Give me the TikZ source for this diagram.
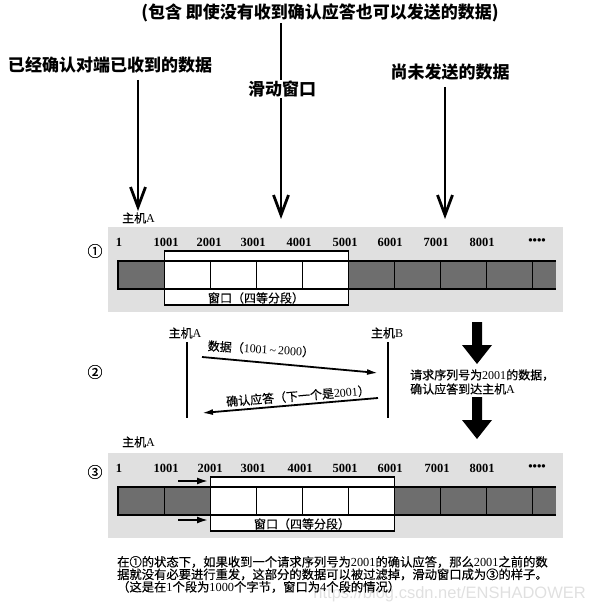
\documentclass[tikz,border=0pt]{standalone}
\usepackage{fontspec}
\setmainfont{Liberation Serif}
\newfontfamily\cjk[FakeBold=0.45]{Noto Sans CJK SC}
\newfontfamily\cjkhead{Noto Sans CJK SC}
\newfontfamily\wmfont{Liberation Sans}
\usetikzlibrary{arrows.meta}
\XeTeXinterchartokenstate=1
\newXeTeXintercharclass\CJKclass
\makeatletter
\def\setcjkrange#1#2{\count@=#1\relax
  \loop\XeTeXcharclass\count@=\CJKclass\relax
  \ifnum\count@<#2\relax\advance\count@ by 1\relax\repeat}
\setcjkrange{"4E00}{"9FFF}
\setcjkrange{"3000}{"303F}
\setcjkrange{"FF00}{"FFEF}
\setcjkrange{"2460}{"2473}
\makeatother
\XeTeXinterchartoks 0 \CJKclass = {\cjk}
\XeTeXinterchartoks \CJKclass 0 = {\rmfamily}
\XeTeXinterchartoks 4095 \CJKclass = {\cjk}
\XeTeXinterchartoks \CJKclass 4095 = {\rmfamily}
\begin{document}
\begin{tikzpicture}[x=1pt,y=-1pt,
  toplbl/.style={font={\XeTeXinterchartokenstate=0 \cjkhead\bfseries\fontsize{17}{19}\selectfont}, inner sep=1pt},
  toparrow/.style={line width=2.8pt, -{Straight Barb[length=20pt,width=15pt]}},
  txtlbl/.style={font=\fontsize{12}{14}\selectfont, inner sep=0pt},
  paralbl/.style={font=\fontsize{12.3}{14}\selectfont, inner sep=0pt, anchor=base west},
  numlbl/.style={font=\bfseries\fontsize{12.5}{14}\selectfont, inner sep=0pt},
  hostlbl/.style={font=\fontsize{12}{14}\selectfont, inner sep=0pt},
  circnum/.style={font=\cjk\fontsize{15}{17}\selectfont, inner sep=0pt},
  bgpanel/.style={fill=black!12},
  darkcell/.style={fill=black!57},
  cellline/.style={line width=1.6pt},
  winbox/.style={line width=1.8pt},
  lifeline/.style={line width=2.6pt},
  msgarrow/.style={line width=1.8pt, -{Latex[length=11pt,width=6pt]}},
  movearrow/.style={line width=1.8pt, -{Latex[length=11pt,width=7pt]}},
]
\useasboundingbox (0,0) rectangle (601,612);

% ---------- top labels and arrows ----------
\node[toplbl] (topl) at (320,13) {(包含 即使没有收到确认应答也可以发送的数据)};
\node[toplbl] (lblA) at (110,65) {已经确认对端已收到的数据};
\node[toplbl] (lblW) at (282,89) {滑动窗口};
\node[toplbl] (lblB) at (450,72) {尚未发送的数据};
\coordinate (srcA) at (138,80);
\coordinate (tipA) at (138,211);
\coordinate (tipW) at (281,219);
\coordinate (srcB) at (445,87);
\coordinate (tipB) at (445,219);
\draw[toparrow] (srcA) -- (tipA);
\draw[line width=2.8pt] (topl.south -| tipW) -- (lblW.north -| tipW);
\draw[toparrow] (lblW.south -| tipW) -- (tipW);
\draw[toparrow] (srcB) -- (tipB);

% ---------- panel 1 ----------
\node[hostlbl, anchor=west] (hA1) at (122,218) {主机A};
\fill[bgpanel] (108,227) rectangle (563,312);
\fill[darkcell] (118,261) rectangle (164.5,289);
\fill[darkcell] (348.5,261) rectangle (556,289);
\fill[white] (164.5,251) rectangle (348.5,305);
\draw[cellline] (556,261) -- (118,261) -- (118,289) -- (556,289);
\foreach \i in {1,...,9} \draw[cellline] ({118.5+46*\i},261) -- ({118.5+46*\i},289);
\draw[winbox] (164.5,251) rectangle (348.5,305);
\node[txtlbl] (win1) at (256,298) {窗口（四等分段）};
\node[numlbl] (p1n0) at (119,242) {1};
\foreach \v/\x in {1001/166,2001/209,3001/253,4001/299,5001/345,6001/390,7001/436,8001/482}
  \node[numlbl] (p1n\v) at (\x,242) {\v};
\node[numlbl] (p1dots) at (537,242) {••••};
\node[circnum] (c1) at (95,251) {①};

% ---------- panel 2 ----------
\node[hostlbl] (hA2) at (185,333) {主机A};
\node[hostlbl] (hB2) at (387,333) {主机B};
\coordinate (Aa) at (187,342); \coordinate (Ab) at (187,418);
\coordinate (Ba) at (388,342); \coordinate (Bb) at (388,418);
\draw[lifeline] (Aa) -- (Ab);
\draw[lifeline] (Ba) -- (Bb);
\coordinate (d1) at (202,357); \coordinate (d2) at (378,373);
\draw[msgarrow] (d1) -- (d2);
\node[txtlbl, rotate=-3.5] (dlbl) at (261,349) {数据（1001\,\textasciitilde\,2000）};
\coordinate (k1) at (378,398); \coordinate (k2) at (202,413);
\draw[msgarrow] (k1) -- (k2);
\node[txtlbl, rotate=4.5] (klbl) at (298,396) {确认应答（下一个是2001）};
\node[circnum] (c2) at (95,372) {②};
\fill (472,322) -- (482,322) -- (482,345) -- (492,345) -- (477,364) -- (462,345) -- (472,345) -- cycle;
\fill (472,397) -- (482,397) -- (482,420) -- (492,420) -- (477,439) -- (462,420) -- (472,420) -- cycle;
\node[txtlbl, anchor=west] (r1) at (410,375) {请求序列号为2001的数据，};
\node[txtlbl, anchor=west] (r2) at (410,389) {确认应答到达主机A};

% ---------- panel 3 ----------
\node[hostlbl, anchor=west] (hA3) at (122,442) {主机A};
\fill[bgpanel] (108,453) rectangle (563,538);
\fill[darkcell] (118,487) rectangle (210.5,515);
\fill[darkcell] (394.5,487) rectangle (556,515);
\fill[white] (210.5,477) rectangle (394.5,531);
\draw[cellline] (556,487) -- (118,487) -- (118,515) -- (556,515);
\foreach \i in {1,...,9} \draw[cellline] ({118.5+46*\i},487) -- ({118.5+46*\i},515);
\draw[winbox] (210.5,477) rectangle (394.5,531);
\node[txtlbl] (win3) at (302,524) {窗口（四等分段）};
\node[numlbl] (p3n0) at (119,468) {1};
\foreach \v/\x in {1001/166,2001/210,3001/253,4001/300,5001/345,6001/390,7001/437,8001/482}
  \node[numlbl] (p3n\v) at (\x,468) {\v};
\node[numlbl] (p3dots) at (537,468) {••••};
\node[circnum] (c3) at (95,472) {③};
\coordinate (m1a) at (178,481); \coordinate (m1b) at (208,481);
\coordinate (m2a) at (178,520); \coordinate (m2b) at (208,520);
\draw[movearrow] (m1a) -- (m1b);
\draw[movearrow] (m2a) -- (m2b);

% ---------- bottom text ----------
\node[font=\wmfont\fontsize{16.5}{18}\selectfont, text=black!12, anchor=base east, inner sep=0pt] (wm) at (586,598) {https://blog.csdn.net/ENSHADOWER};
\node[paralbl] (l1) at (117,566.5) {在①的状态下，如果收到一个请求序列号为2001的确认应答，那么2001之前的数};
\node[paralbl] (l2) at (117,579) {据就没有必要进行重发，这部分的数据可以被过滤掉，滑动窗口成为③的样子。};
\node[paralbl] (l3) at (117,591.5) {（这是在1个段为1000个字节，窗口为4个段的情况）};
\end{tikzpicture}
\end{document}
